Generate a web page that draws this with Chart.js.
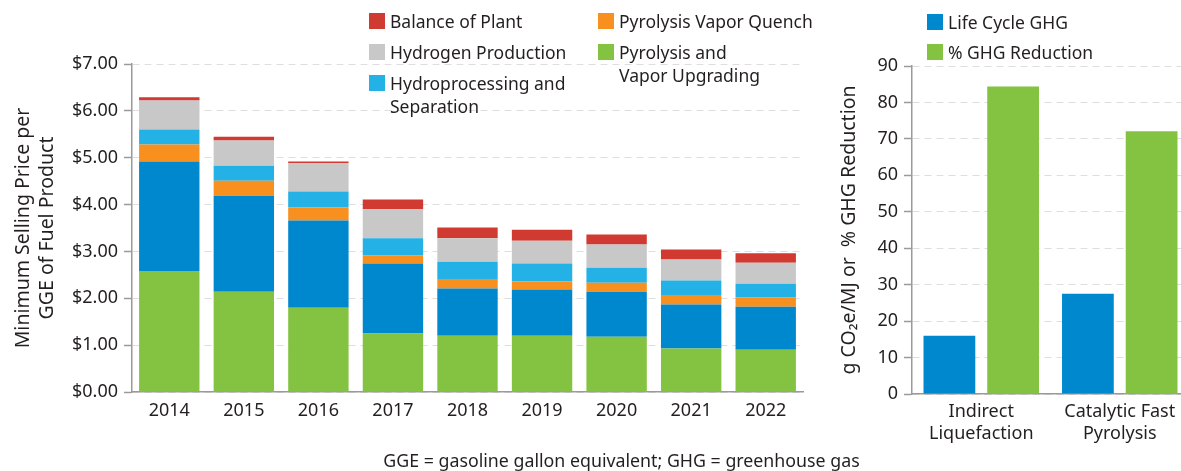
<!DOCTYPE html>
<html>
<head>
<meta charset="utf-8">
<script src="https://cdn.jsdelivr.net/npm/chart.js@4.4.0/dist/chart.umd.min.js"></script>
<style>
body { margin:0; width:1181px; height:471px; overflow:hidden; background:#fff; position:relative;
       font-family:"Noto Sans", sans-serif; color:#231f20; }
canvas { position:absolute; top:0; }
.lg { position:absolute; font-size:17.5px; line-height:23px; white-space:nowrap; }
.lg i { position:absolute; left:-21px; top:3.5px; width:16px; height:16px; }
#note { position:absolute; left:0; width:1243px; top:447px; line-height:26px; text-align:center; font-size:17.8px; }
</style>
</head>
<body>
<canvas id="cost" width="810" height="471" style="left:0"></canvas>
<canvas id="ghg" width="370" height="471" style="left:820px"></canvas>
<div id="legends"></div>
<div id="note">GGE = gasoline gallon equivalent; GHG = greenhouse gas</div>
<script>
// left chart: minimum selling price, $/GGE (stack bottom -> top)
const years = ['2014','2015','2016','2017','2018','2019','2020','2021','2022'];
const pyrolysisUpgrading = [2.58, 2.14, 1.80, 1.25, 1.20, 1.20, 1.18, 0.93, 0.90];
const feedstock          = [2.34, 2.05, 1.86, 1.49, 1.01, 0.99, 0.96, 0.94, 0.92];
const vaporQuench        = [0.36, 0.32, 0.28, 0.18, 0.20, 0.17, 0.19, 0.20, 0.20];
const hydroprocessing    = [0.32, 0.32, 0.34, 0.36, 0.37, 0.38, 0.32, 0.31, 0.29];
const hydrogenProduction = [0.62, 0.54, 0.60, 0.62, 0.50, 0.49, 0.50, 0.45, 0.45];
const balanceOfPlant     = [0.07, 0.08, 0.04, 0.21, 0.23, 0.23, 0.21, 0.21, 0.20];

// right chart: GHG
const pathways = [['Indirect','Liquefaction'], ['Catalytic Fast','Pyrolysis']];
const lifeCycleGHG = [16.0, 27.5];
const ghgReduction = [84.4, 72.1];

const TXT = '#231f20';
const AXIS = '#9a9a9a';
const GRID = '#dedede';
const FONT = '"Noto Sans", sans-serif';
Chart.defaults.font.family = FONT;
Chart.defaults.color = TXT;
Chart.defaults.animation = false;

const costSets = [
  { label: 'Pyrolysis and|Vapor Upgrading', data: pyrolysisUpgrading, backgroundColor: '#84c341' },
  { label: 'Feedstock', data: feedstock, backgroundColor: '#0088ce' },
  { label: 'Pyrolysis Vapor Quench', data: vaporQuench, backgroundColor: '#f7901e' },
  { label: 'Hydroprocessing and|Separation', data: hydroprocessing, backgroundColor: '#23b1e6' },
  { label: 'Hydrogen Production', data: hydrogenProduction, backgroundColor: '#c8c8c8' },
  { label: 'Balance of Plant', data: balanceOfPlant, backgroundColor: '#d13a31' }
];

function yAxis(width, max, step, fmt, title, titlePad) {
  return {
    min: 0, max: max,
    afterFit: s => { s.width = width; },
    grid: { color: GRID, lineWidth: 1, tickLength: 8, tickColor: AXIS, tickBorderDash: [], tickWidth: 1.5, drawOnChartArea: true },
    border: { display: true, color: AXIS, width: 1.5, dash: [7, 5] },
    ticks: { stepSize: step, padding: 6, color: TXT, font: { size: 18 }, callback: fmt },
    title: { display: true, text: title, color: TXT, font: { size: 19.5 }, padding: { top: titlePad, bottom: 0 } }
  };
}

new Chart(document.getElementById('cost'), {
  type: 'bar',
  data: {
    labels: years,
    datasets: costSets.map(d => ({ ...d, barPercentage: 0.81, categoryPercentage: 1, borderWidth: 0 }))
  },
  options: {
    responsive: false,
    layout: { padding: { top: 64, right: 7, left: 0, bottom: 0 } },
    plugins: { legend: { display: false }, tooltip: { enabled: false } },
    scales: {
      x: {
        stacked: true,
        afterFit: s => { s.height = 79; },
        grid: { display: false, drawTicks: false },
        border: { display: true, color: AXIS, width: 1.5 },
        ticks: { padding: 8, color: TXT, font: { size: 18 } }
      },
      y: Object.assign(yAxis(132, 7, 1, v => '$' + v.toFixed(2),
            ['Minimum Selling Price per', 'GGE of Fuel Product'], 12), { stacked: true })
    }
  }
});

new Chart(document.getElementById('ghg'), {
  type: 'bar',
  data: {
    labels: pathways,
    datasets: [
      { label: 'Life Cycle GHG', data: lifeCycleGHG, backgroundColor: '#0088ce' },
      { label: '% GHG Reduction', data: ghgReduction, backgroundColor: '#84c341' }
    ].map(d => ({ ...d, barPercentage: 0.8125, categoryPercentage: 0.92, borderWidth: 0 }))
  },
  options: {
    responsive: false,
    layout: { padding: { top: 66, right: 1, left: 0, bottom: 0 } },
    plugins: { legend: { display: false }, tooltip: { enabled: false } },
    scales: {
      x: {
        afterFit: s => { s.height = 77; },
        grid: { display: false, drawTicks: false },
        border: { display: true, color: AXIS, width: 1.5 },
        ticks: { padding: 7, color: TXT, font: { size: 18, lineHeight: 1.22 } }
      },
      y: yAxis(92, 90, 10, v => v, 'g CO\u2082e/MJ or  % GHG Reduction', 18)
    }
  }
});

// legends (HTML, text from dataset labels)
const legendPlaces = [
  { set: costSets[5], x: 390, y: 9.5 },
  { set: costSets[4], x: 390, y: 40.5 },
  { set: costSets[3], x: 390, y: 71.5 },
  { set: costSets[2], x: 619, y: 9.5 },
  { set: costSets[0], x: 619, y: 40.5 },
  { set: { label: 'Life Cycle GHG', backgroundColor: '#0088ce' }, x: 948, y: 10.5 },
  { set: { label: '% GHG Reduction', backgroundColor: '#84c341' }, x: 948, y: 40.5 }
];
const box = document.getElementById('legends');
legendPlaces.forEach(p => {
  const el = document.createElement('div');
  el.className = 'lg';
  el.style.left = p.x + 'px';
  el.style.top = p.y + 'px';
  const sw = document.createElement('i');
  sw.style.background = p.set.backgroundColor;
  el.appendChild(sw);
  p.set.label.split('|').forEach((t, i) => {
    if (i) el.appendChild(document.createElement('br'));
    el.appendChild(document.createTextNode(t));
  });
  box.appendChild(el);
});
</script>
</body>
</html>
